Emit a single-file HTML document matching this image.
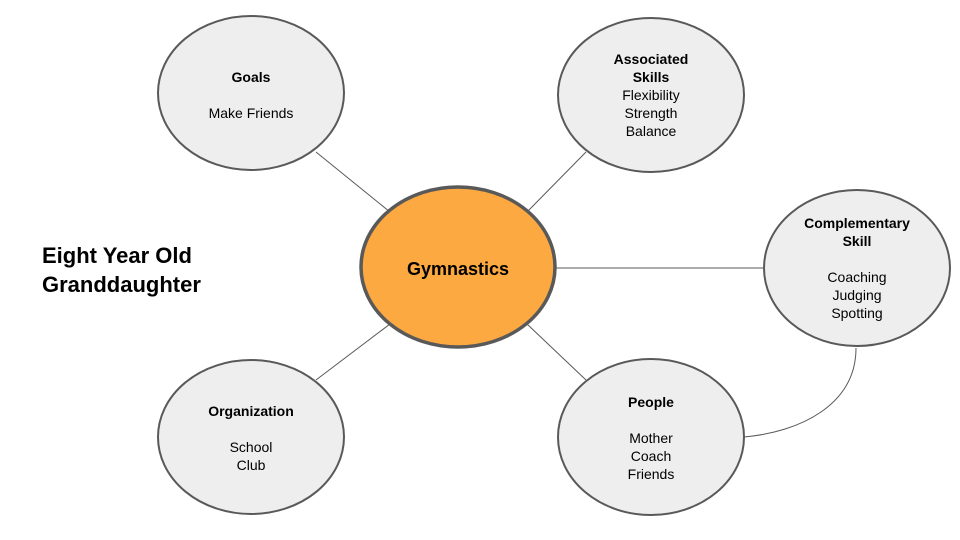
<!DOCTYPE html>
<html><head><style>body{margin:0;background:#fff}svg{display:block}text{font-family:"Liberation Sans",Arial,sans-serif;font-size:14px;fill:#000}</style></head>
<body>
<svg width="960" height="540" viewBox="0 0 960 540" xmlns="http://www.w3.org/2000/svg">
<g stroke="#595959" stroke-width="1" fill="none">
<line x1="316" y1="152" x2="390" y2="212"/>
<line x1="586" y1="152" x2="527" y2="212"/>
<line x1="556" y1="268" x2="764" y2="268"/>
<line x1="527" y1="324" x2="586" y2="380"/>
<line x1="390" y1="324" x2="316" y2="380"/>
<path d="M856,348 C856,405 800,432 744,437"/>
</g>
<g fill="#eeeeee" stroke="#595959" stroke-width="2">
<ellipse cx="251" cy="93" rx="93" ry="77"/>
<ellipse cx="651" cy="95" rx="93" ry="77"/>
<ellipse cx="857" cy="268" rx="93" ry="78"/>
<ellipse cx="651" cy="437" rx="93" ry="78"/>
<ellipse cx="251" cy="437" rx="93" ry="77"/>
</g>
<ellipse cx="458" cy="267" rx="97" ry="80" fill="#fba940" stroke="#595959" stroke-width="3.5"/>
<text x="458" y="275" text-anchor="middle" font-weight="bold" style="font-size:18px">Gymnastics</text>
<g text-anchor="middle">
<text x="251" y="82" font-weight="bold">Goals</text>
<text x="251" y="118">Make Friends</text>
<text x="651" y="64" font-weight="bold">Associated</text>
<text x="651" y="82" font-weight="bold">Skills</text>
<text x="651" y="100">Flexibility</text>
<text x="651" y="118">Strength</text>
<text x="651" y="136">Balance</text>
<text x="857" y="228" font-weight="bold">Complementary</text>
<text x="857" y="246" font-weight="bold">Skill</text>
<text x="857" y="282">Coaching</text>
<text x="857" y="300">Judging</text>
<text x="857" y="318">Spotting</text>
<text x="651" y="407" font-weight="bold">People</text>
<text x="651" y="443">Mother</text>
<text x="651" y="461">Coach</text>
<text x="651" y="479">Friends</text>
<text x="251" y="416" font-weight="bold">Organization</text>
<text x="251" y="452">School</text>
<text x="251" y="470">Club</text>
</g>
<text x="42" y="263" font-weight="bold" style="font-size:22px">Eight Year Old</text>
<text x="42" y="292" font-weight="bold" style="font-size:22px">Granddaughter</text>
</svg>
</body></html>
